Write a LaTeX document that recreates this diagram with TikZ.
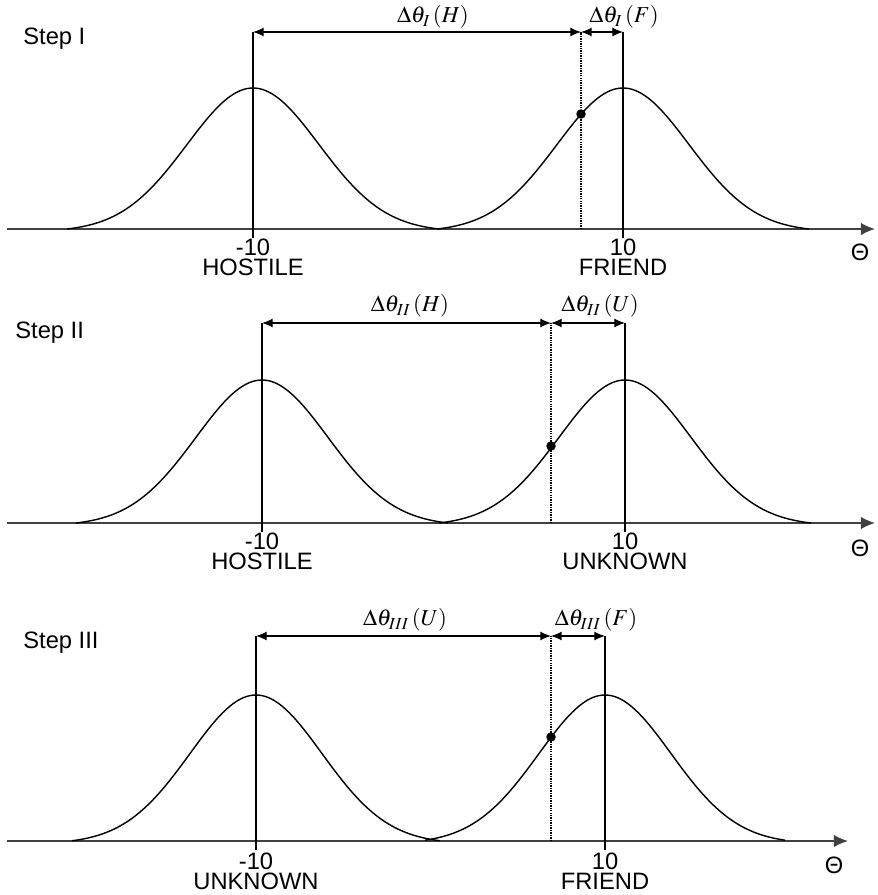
\documentclass[tikz,border=0pt]{standalone}
\usepackage{mathptmx}
\usepackage{fontspec}
\setmainfont{Liberation Sans}
\usetikzlibrary{arrows.meta}

\begin{document}
\begin{tikzpicture}[
        x=0.02cm, y=-0.02cm,
        lbl/.style={
            inner sep=0pt,
            font=\fontsize{13.5}{16}\selectfont
        },
        vlbl/.style={
            inner sep=0pt,
            anchor=north,
            align=center,
            font=\fontsize{13.5}{11.3}\selectfont
        },
        dlbl/.style={
            inner sep=0pt,
            font=\fontsize{13}{16}\selectfont
        },
        axisline/.style={
            draw=black!75,
            line width=0.8pt,
            -{Latex[length=8pt,width=7pt]}
        },
        bell/.style={
            line width=0.8pt,
            smooth
        },
        mline/.style={
            line width=0.7pt
        },
        guide/.style={
            line width=1.1pt,
            dash pattern=on 0.8pt off 0.6pt
        },
        dimarrow/.style={
            line width=0.6pt,
            {Latex[length=6pt,width=5pt]}-{Latex[length=6pt,width=5pt]}
        },
        sample/.style={
            circle,
            fill=black,
            inner sep=0pt,
            minimum size=0.19cm
        }
    ]
        \useasboundingbox (0,0) rectangle (878,895);

        % Step I
        \node[lbl, anchor=west] (step1) at (23,39) {Step I};
        \coordinate (ax1s) at (7,229);
        \coordinate (ax1e) at (875,229);
        \draw[axisline] (ax1s) -- (ax1e);
        \node[lbl] (theta1) at (860,252) {Θ};
        \draw[bell] plot[domain=-186:186, samples=61] ({253+\x},{229-141*(exp(-(\x/66)*(\x/66)/2)-0.01885)/0.98115});
        \draw[bell] plot[domain=-186:186, samples=61] ({623+\x},{229-141*(exp(-(\x/66)*(\x/66)/2)-0.01885)/0.98115});
        \coordinate (h1b) at (253,238);
        \coordinate (h1t) at (253,32);
        \coordinate (f1b) at (623,238);
        \coordinate (f1t) at (623,32);
        \coordinate (m1b) at (581,229);
        \coordinate (m1t) at (581,32);
        \draw[mline] (h1b) -- (h1t);
        \draw[mline] (f1b) -- (f1t);
        \draw[guide] (m1b) -- (m1t);
        \node[sample] (p1) at (581,114) {};
        \draw[dimarrow] (h1t) -- (m1t);
        \draw[dimarrow] (m1t) -- (f1t);
        \node[dlbl] (dh1) at (433,17) {$\Delta\theta_{I}\,(H)$};
        \node[dlbl] (df1) at (624,17) {$\Delta\theta_{I}\,(F)$};
        \node[vlbl] (c1a) at (253,239) {-10\\HOSTILE};
        \node[vlbl] (c1b) at (623,239) {10\\FRIEND};

        % Step II
        \node[lbl, anchor=west] (step2) at (15,333) {Step II};
        \coordinate (ax2s) at (7,523);
        \coordinate (ax2e) at (875,523);
        \draw[axisline] (ax2s) -- (ax2e);
        \node[lbl] (theta2) at (860,548) {Θ};
        \draw[bell] plot[domain=-186:186, samples=61] ({262+\x},{523-143*(exp(-(\x/66)*(\x/66)/2)-0.01885)/0.98115});
        \draw[bell] plot[domain=-186:186, samples=61] ({625+\x},{523-143*(exp(-(\x/66)*(\x/66)/2)-0.01885)/0.98115});
        \coordinate (h2b) at (262,532);
        \coordinate (h2t) at (262,323);
        \coordinate (u2b) at (625,532);
        \coordinate (u2t) at (625,323);
        \coordinate (m2b) at (551,523);
        \coordinate (m2t) at (551,323);
        \draw[mline] (h2b) -- (h2t);
        \draw[mline] (u2b) -- (u2t);
        \draw[guide] (m2b) -- (m2t);
        \node[sample] (p2) at (551,446) {};
        \draw[dimarrow] (h2t) -- (m2t);
        \draw[dimarrow] (m2t) -- (u2t);
        \node[dlbl] (dh2) at (410,306) {$\Delta\theta_{II}\,(H)$};
        \node[dlbl] (du2) at (600,306) {$\Delta\theta_{II}\,(U)$};
        \node[vlbl] (c2a) at (262,533) {-10\\HOSTILE};
        \node[vlbl] (c2b) at (625,533) {10\\UNKNOWN};

        % Step III
        \node[lbl, anchor=west] (step3) at (23,643) {Step III};
        \coordinate (ax3s) at (7,841);
        \coordinate (ax3e) at (848,841);
        \draw[axisline] (ax3s) -- (ax3e);
        \node[lbl] (theta3) at (834,865) {Θ};
        \draw[bell] plot[domain=-184:184, samples=61] ({256+\x},{841-146*(exp(-(\x/66)*(\x/66)/2)-0.01885)/0.98115});
        \draw[bell] plot[domain=-180:180, samples=61] ({605+\x},{841-146*(exp(-(\x/66)*(\x/66)/2)-0.01885)/0.98115});
        \coordinate (u3b) at (256,850);
        \coordinate (u3t) at (256,636);
        \coordinate (f3b) at (605,850);
        \coordinate (f3t) at (605,636);
        \coordinate (m3b) at (551,841);
        \coordinate (m3t) at (551,636);
        \draw[mline] (u3b) -- (u3t);
        \draw[mline] (f3b) -- (f3t);
        \draw[guide] (m3b) -- (m3t);
        \node[sample] (p3) at (551,737) {};
        \draw[dimarrow] (u3t) -- (m3t);
        \draw[dimarrow] (m3t) -- (f3t);
        \node[dlbl] (du3) at (405,620) {$\Delta\theta_{III}\,(U)$};
        \node[dlbl] (df3) at (596,620) {$\Delta\theta_{III}\,(F)$};
        \node[vlbl] (c3a) at (256,853) {-10\\UNKNOWN};
        \node[vlbl] (c3b) at (605,853) {10\\FRIEND};
\end{tikzpicture}
\end{document}
